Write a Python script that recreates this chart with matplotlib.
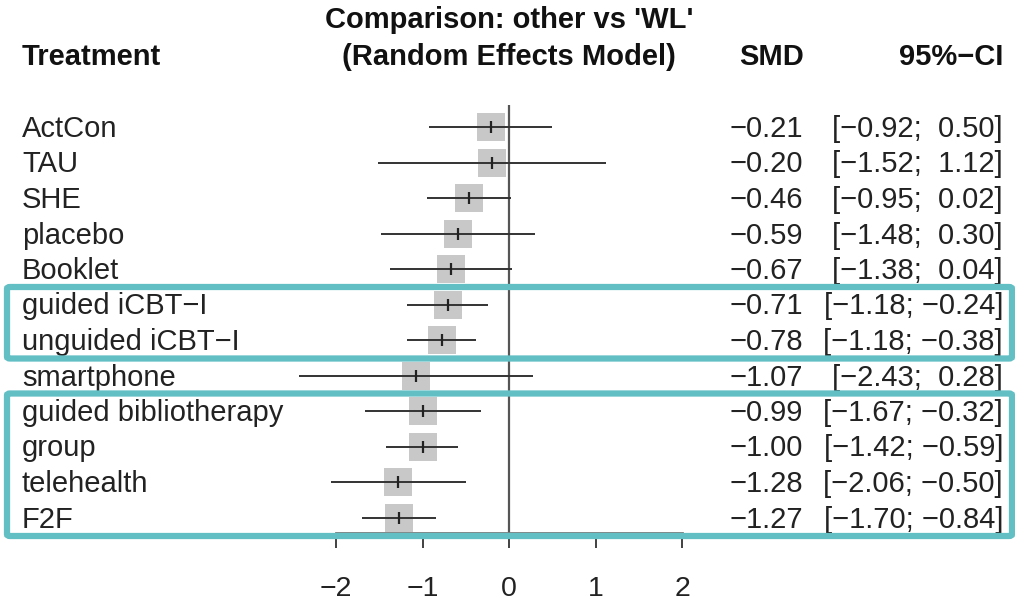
import numpy as np
import matplotlib
matplotlib.use("Agg")
from matplotlib import pyplot as plt
from matplotlib.patches import FancyBboxPatch

treatments = ["ActCon", "TAU", "SHE", "placebo", "Booklet", "guided iCBT\u2212I",
              "unguided iCBT\u2212I", "smartphone", "guided bibliotherapy", "group",
              "telehealth", "F2F"]
smd = [-0.21, -0.20, -0.46, -0.59, -0.67, -0.71, -0.78, -1.07, -0.99, -1.00, -1.28, -1.27]
lower = [-0.92, -1.52, -0.95, -1.48, -1.38, -1.18, -1.18, -2.43, -1.67, -1.42, -2.06, -1.70]
upper = [0.50, 1.12, 0.02, 0.30, 0.04, -0.24, -0.38, 0.28, -0.32, -0.59, -0.50, -0.84]
xticks = [-2, -1, 0, 1, 2]
# rows highlighted by the teal frames (first, last)
groups = [(5, 6), (8, 11)]

W, H = 1015, 603
plt.rcParams['font.family'] = ['Liberation Sans', 'DejaVu Sans']
fig = plt.figure(figsize=(W / 100, H / 100), dpi=100)

# forest axes: x -2..2 at px 336..682, rows at 127 + i*35.5
row0, dy = 127, 35.5
top_px, bot_px = 105, 533
ax = fig.add_axes([336 / W, 1 - bot_px / H, 346 / W, (bot_px - top_px) / H])
ax.set_xlim(-2, 2)
ax.set_ylim((bot_px - row0) / dy, (top_px - row0) / dy)
ax.patch.set_alpha(0)

y = np.arange(len(treatments))
ax.axvline(0, color="#555555", lw=1.6, zorder=1)
ax.scatter(smd, y, marker="s", s=19.5 ** 2, color="#c8c8c8", linewidths=0, zorder=2, clip_on=False)
ax.hlines(y, lower, upper, color="#333333", lw=1.4, zorder=3, clip_on=False)
ax.plot(smd, y, ls="none", marker="|", ms=8, mew=1.6, color="#222222", zorder=4, clip_on=False)

for s in ["top", "right", "left"]:
    ax.spines[s].set_visible(False)
ax.spines["bottom"].set_color("#777777")
ax.spines["bottom"].set_linewidth(2)
ax.set_yticks([])
ax.set_xticks(xticks)
ax.set_xticklabels([str(t).replace("-", "\u2212") for t in xticks], fontsize=20.5)
ax.tick_params(axis="x", length=11, width=1.3, color="#333333", pad=20, labelcolor="#222222")

def fy(px):
    return 1 - px / H

txt = dict(fontsize=21, color="#222222", va="center")
hdr = dict(fontsize=21, fontweight="bold", color="#111111", va="center")
fig.text(22 / W, fy(57), "Treatment", ha="left", **hdr)
fig.text(509 / W, fy(20), "Comparison: other vs 'WL'", ha="center", **hdr)
fig.text(509 / W, fy(57), "(Random Effects Model)", ha="center", **hdr)
fig.text(772 / W, fy(57), "SMD", ha="center", **hdr)
fig.text(1003 / W, fy(57), "95%\u2212CI", ha="right", **hdr)

def fmt(v):
    return ("%.2f" % v).replace("-", "\u2212") if v < 0 else " %.2f" % v

for i, name in enumerate(treatments):
    yy = fy(row0 + i * dy + 2)
    fig.text(22 / W, yy, name, ha="left", **txt)
    fig.text(803 / W, yy, fmt(smd[i]), ha="right", **txt)
    fig.text(1003 / W, yy, "[%s; %s]" % (fmt(lower[i]), fmt(upper[i])), ha="right", **txt)

# teal highlight frames
for a, b in groups:
    y0 = row0 + a * dy - 17.5
    y1 = row0 + b * dy + 18.5
    fig.patches.append(FancyBboxPatch((7 / W, 1 - y1 / H), (1012 - 7) / W, (y1 - y0) / H,
                                      boxstyle="round,pad=0,rounding_size=0.003",
                                      transform=fig.transFigure, fill=False,
                                      edgecolor="#62bfc4", lw=4.5, zorder=10))

fig.savefig("out.png", dpi=100)
